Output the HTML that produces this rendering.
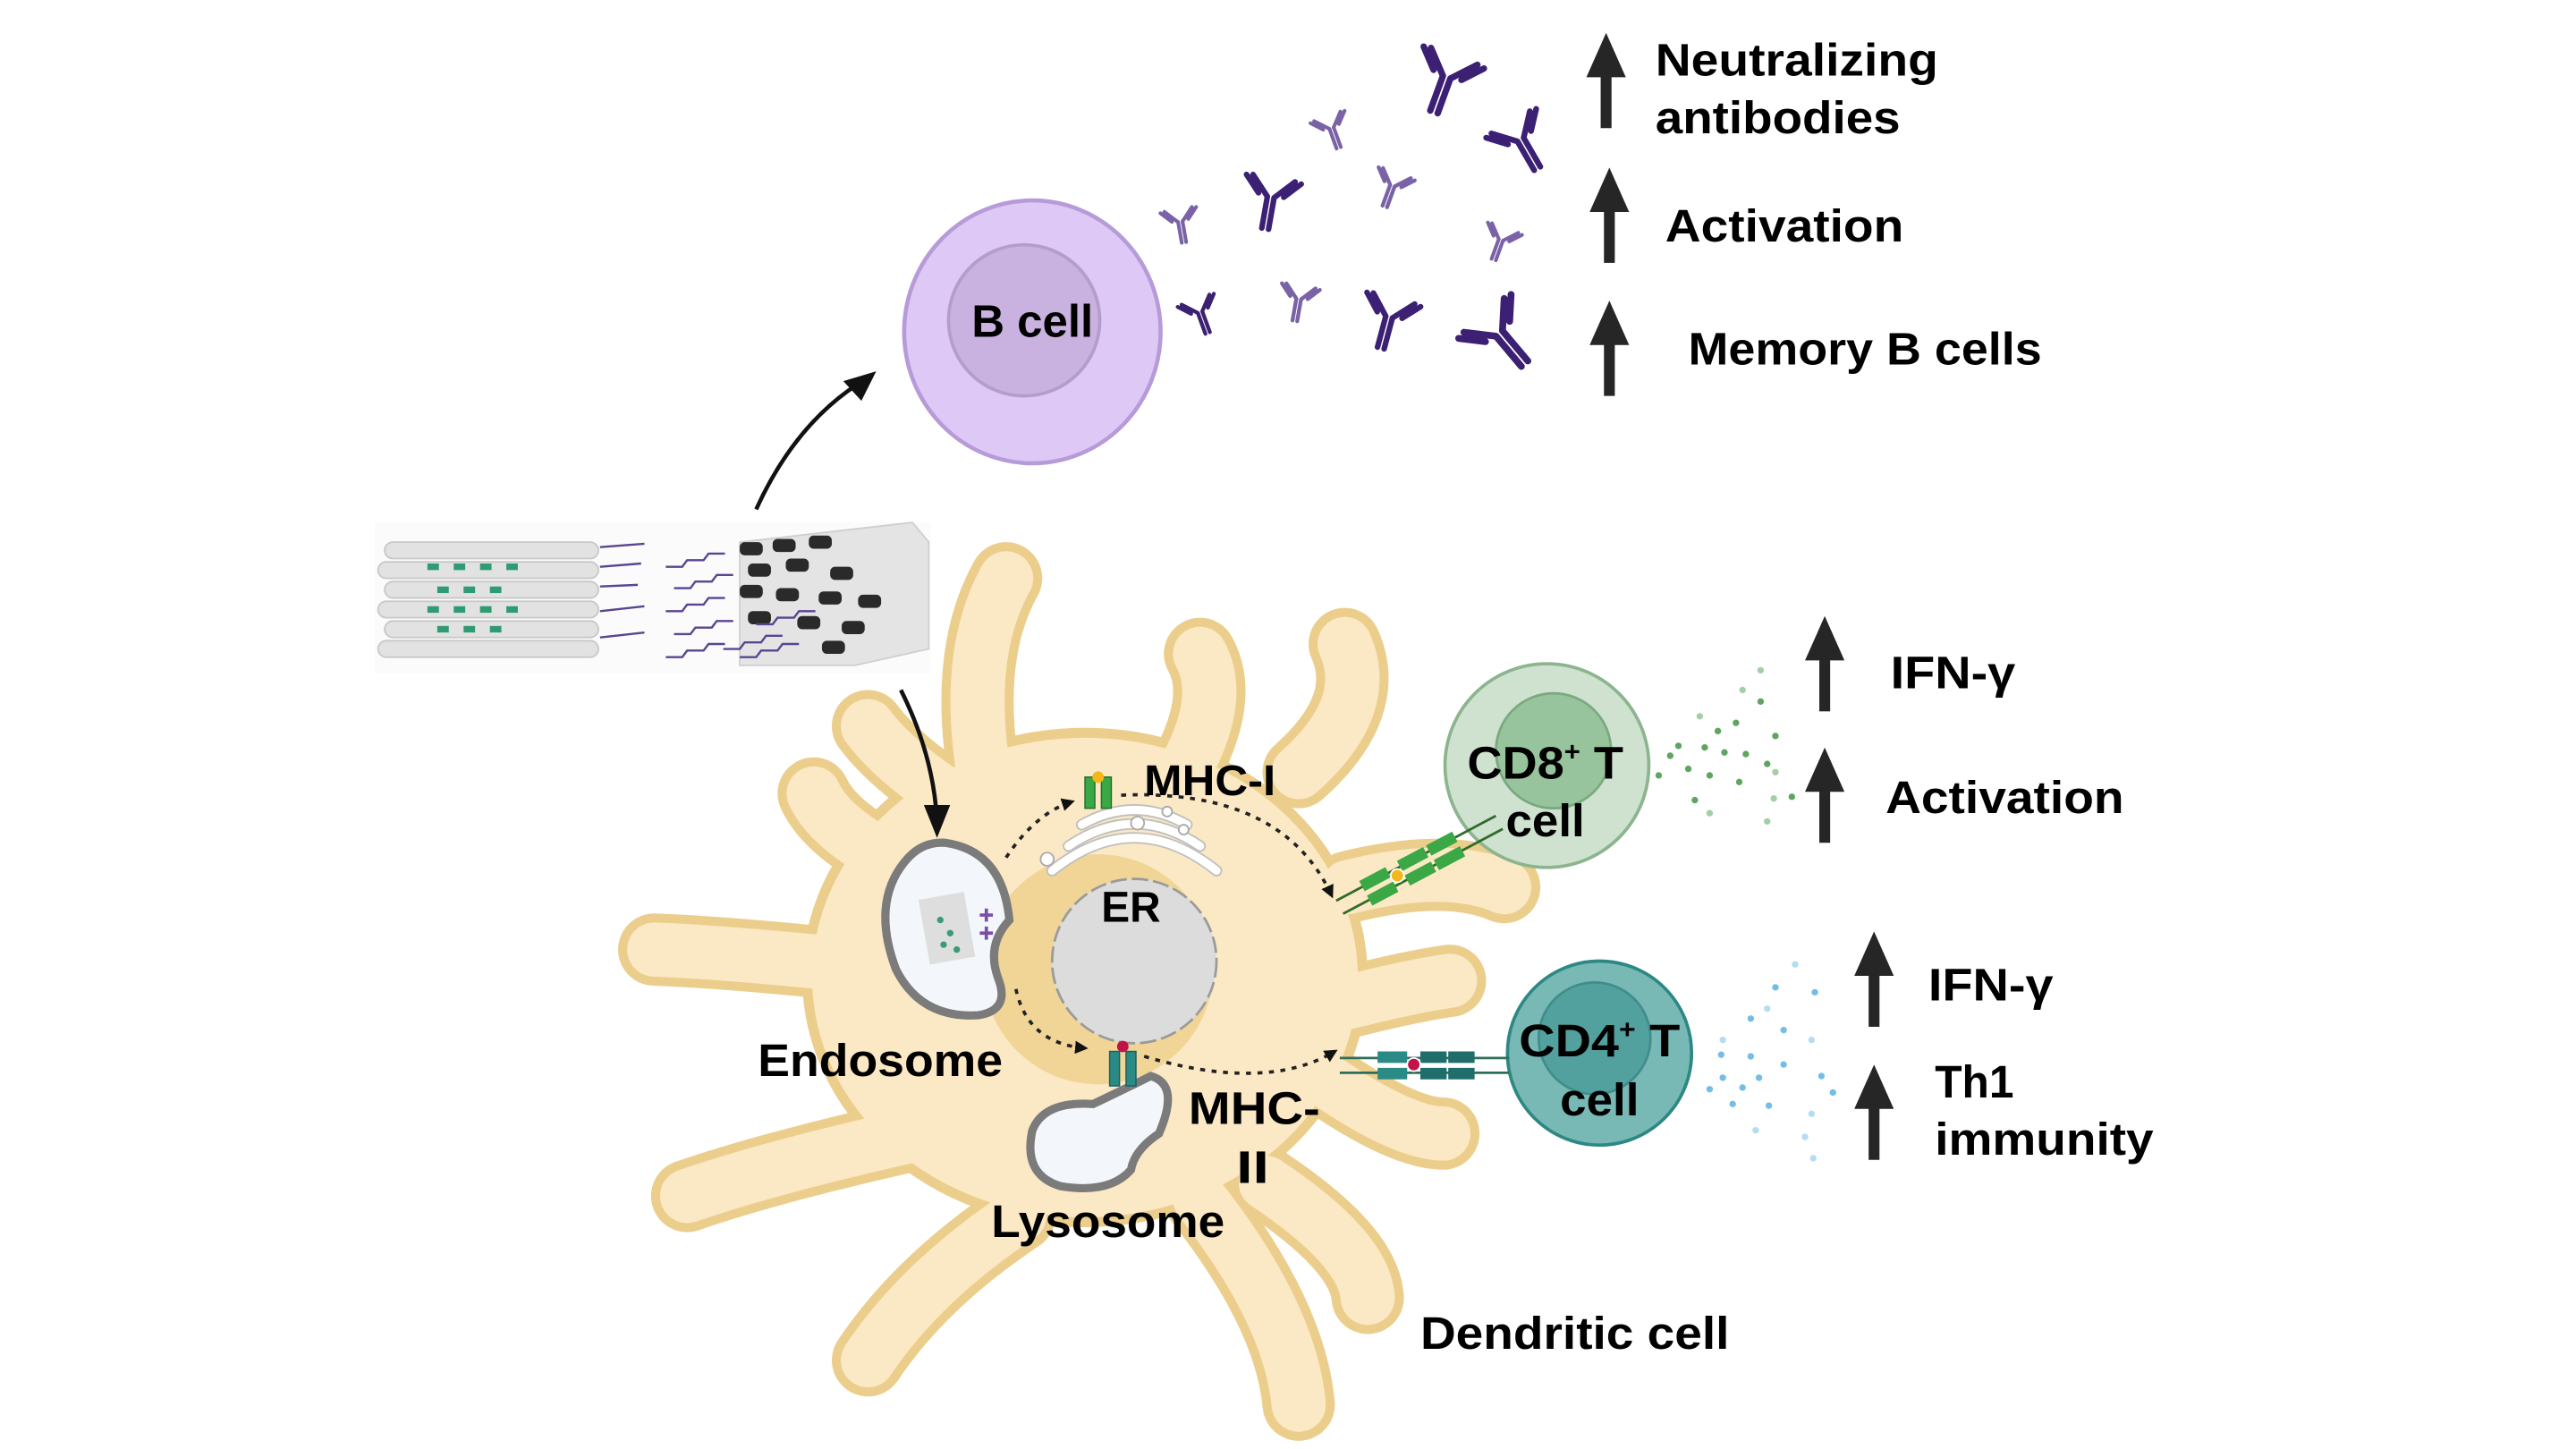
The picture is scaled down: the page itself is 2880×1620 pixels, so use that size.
<!DOCTYPE html>
<html><head><meta charset="utf-8"><style>
html,body{margin:0;padding:0;background:#fff;}
svg{display:block;}
text{font-family:"Liberation Sans",sans-serif;font-weight:bold;fill:#000;}
</style></head><body>
<svg width="2880" height="1620" viewBox="0 0 1567 882" preserveAspectRatio="none" xmlns="http://www.w3.org/2000/svg">
<defs>
<marker id="ah" markerWidth="8" markerHeight="8" refX="6" refY="4" orient="auto" markerUnits="userSpaceOnUse"><path d="M0,0 L8,4 L0,8 z" fill="#111"/></marker>
<g id="ab" fill="none" stroke-linecap="round"><path d="M-1.6,0 L-1.6,15 M1.6,0 L1.6,15 M-1.6,0 L-10,-9 M1.6,0 L10,-9 M-6,-1 L-13,-8.5 M6,-1 L13,-8.5" stroke-width="2.6"/></g>
<g id="up"><rect x="-3.3" y="26" width="6.6" height="32" fill="#262626"/><path d="M-12,27 L0,0 L12,27 z" fill="#262626"/></g>
</defs>

<!-- B cell -->
<ellipse cx="628" cy="202" rx="78" ry="80" fill="#ddc8f6" stroke="#b79bd8" stroke-width="2.5"/>
<circle cx="623" cy="195" r="46" fill="#c9b2e0" stroke="#b49dcd" stroke-width="2"/>
<text x="628" y="205" font-size="28" text-anchor="middle" textLength="74" lengthAdjust="spacingAndGlyphs">B cell</text>

<!-- arrow to B cell -->
<path d="M460,310 Q485,255 528,230" fill="none" stroke="#111" stroke-width="2.5"/>
<path d="M533,226 L513,232 L524,244 z" fill="#111"/>

<!-- antibodies -->
<g stroke="#3b2073">
<use href="#ab" transform="translate(880,47) rotate(20) scale(1.5)"/>
<use href="#ab" transform="translate(925,85) rotate(-30) scale(1.35)"/>
<use href="#ab" transform="translate(773,120) rotate(10) scale(1.3)"/>
<use href="#ab" transform="translate(845,193) rotate(15) scale(1.3)"/>
<use href="#ab" transform="translate(912,203) rotate(-40) scale(1.6)"/>
<use href="#ab" transform="translate(730,190) rotate(-20) scale(0.9)"/>
</g>
<g stroke="#7a62a6">
<use href="#ab" transform="translate(810,78) rotate(-20) scale(0.85)"/>
<use href="#ab" transform="translate(847,113) rotate(20) scale(0.9)"/>
<use href="#ab" transform="translate(718,135) rotate(-10) scale(0.85)"/>
<use href="#ab" transform="translate(913,146) rotate(20) scale(0.85)"/>
<use href="#ab" transform="translate(790,182) rotate(10) scale(0.9)"/>
</g>

<!-- right-top labels -->
<use href="#up" transform="translate(977,20)"/>
<use href="#up" transform="translate(979,102)"/>
<use href="#up" transform="translate(979,183)"/>
<text x="1007" y="46" font-size="28" textLength="172" lengthAdjust="spacingAndGlyphs">Neutralizing</text>
<text x="1007" y="81" font-size="28" textLength="149" lengthAdjust="spacingAndGlyphs">antibodies</text>
<text x="1013" y="147" font-size="28" textLength="145" lengthAdjust="spacingAndGlyphs">Activation</text>
<text x="1027" y="222" font-size="28" textLength="215" lengthAdjust="spacingAndGlyphs">Memory B cells</text>

<!-- nanostructures -->
<rect x="228" y="318" width="338" height="92" fill="#fbfbfb"/>
<g fill="#e2e2e2" stroke="#c8c8c8" stroke-width="1">
<rect x="234" y="330" width="130" height="10" rx="5"/>
<rect x="230" y="342" width="134" height="10" rx="5"/>
<rect x="234" y="354" width="130" height="10" rx="5"/>
<rect x="230" y="366" width="134" height="10" rx="5"/>
<rect x="234" y="378" width="130" height="10" rx="5"/>
<rect x="230" y="390" width="134" height="10" rx="5"/>
</g>
<g fill="#2f9b73">
<rect x="260" y="343" width="7" height="4"/><rect x="276" y="343" width="7" height="4"/><rect x="292" y="343" width="7" height="4"/><rect x="308" y="343" width="7" height="4"/>
<rect x="266" y="357" width="7" height="4"/><rect x="282" y="357" width="7" height="4"/><rect x="298" y="357" width="7" height="4"/>
<rect x="260" y="369" width="7" height="4"/><rect x="276" y="369" width="7" height="4"/><rect x="292" y="369" width="7" height="4"/><rect x="308" y="369" width="7" height="4"/>
<rect x="266" y="381" width="7" height="4"/><rect x="282" y="381" width="7" height="4"/><rect x="298" y="381" width="7" height="4"/>
</g>
<g fill="#e4e4e4" stroke="#cfcfcf">
<path d="M450,330 L555,318 L565,330 L565,395 L520,405 L450,405 z"/>
</g>
<g fill="#2a2a2a">
<rect x="450" y="330" width="14" height="8" rx="3"/><rect x="470" y="328" width="14" height="8" rx="3"/><rect x="492" y="326" width="14" height="8" rx="3"/>
<rect x="455" y="343" width="14" height="8" rx="3"/><rect x="478" y="340" width="14" height="8" rx="3"/><rect x="505" y="345" width="14" height="8" rx="3"/>
<rect x="450" y="356" width="14" height="8" rx="3"/><rect x="472" y="358" width="14" height="8" rx="3"/><rect x="498" y="360" width="14" height="8" rx="3"/>
<rect x="455" y="372" width="14" height="8" rx="3"/><rect x="485" y="375" width="14" height="8" rx="3"/><rect x="512" y="378" width="14" height="8" rx="3"/>
<rect x="500" y="390" width="14" height="8" rx="3"/><rect x="522" y="362" width="14" height="8" rx="3"/>
</g>
<g stroke="#5a4590" stroke-width="1.3" fill="none">
<path d="M365,333 L392,331"/><path d="M365,345 L390,343"/><path d="M365,357 L388,356"/><path d="M365,372 L392,369"/><path d="M365,388 L392,385"/>
<path d="M405,345 l10,0 l3,-4 l10,0 l3,-4 l10,0"/><path d="M410,358 l10,0 l3,-4 l10,0 l3,-4 l10,0"/>
<path d="M405,372 l10,0 l3,-4 l10,0 l3,-4 l10,0"/><path d="M410,386 l10,0 l3,-4 l10,0 l3,-4 l10,0"/>
<path d="M405,400 l10,0 l3,-4 l10,0 l3,-4 l10,0"/><path d="M450,400 l10,0 l3,-4 l10,0 l3,-4 l10,0"/>
<path d="M440,395 l10,0 l3,-4 l10,0 l3,-4 l10,0"/><path d="M460,380 l10,0 l3,-4 l10,0 l3,-4 l10,0"/>
</g>

<!-- Dendritic cell -->
<g fill="none" stroke-linecap="round" stroke="#ecce8c" stroke-width="44">
<path d="M600,480 Q585,400 612,352"/>
<path d="M720,470 Q745,425 730,398"/>
<path d="M790,470 Q835,430 818,392"/>
<path d="M820,540 Q880,525 915,540"/>
<path d="M820,610 Q860,600 882,597"/>
<path d="M810,660 Q855,690 878,690"/>
<path d="M770,720 Q830,760 832,790"/>
<path d="M730,730 Q785,800 790,855"/>
<path d="M620,740 Q560,780 528,828"/>
<path d="M560,690 Q470,710 418,728"/>
<path d="M540,590 Q450,580 398,578"/>
<path d="M545,525 Q505,505 495,483"/>
<path d="M585,490 Q545,465 528,442"/>
</g>
<ellipse cx="660" cy="595" rx="172" ry="152" fill="#ecce8c"/>
<g fill="none" stroke-linecap="round" stroke="#fbe8c4" stroke-width="33">
<path d="M600,480 Q585,400 612,352"/>
<path d="M720,470 Q745,425 730,398"/>
<path d="M790,470 Q835,430 818,392"/>
<path d="M820,540 Q880,525 915,540"/>
<path d="M820,610 Q860,600 882,597"/>
<path d="M810,660 Q855,690 878,690"/>
<path d="M770,720 Q830,760 832,790"/>
<path d="M730,730 Q785,800 790,855"/>
<path d="M620,740 Q560,780 528,828"/>
<path d="M560,690 Q470,710 418,728"/>
<path d="M540,590 Q450,580 398,578"/>
<path d="M545,525 Q505,505 495,483"/>
<path d="M585,490 Q545,465 528,442"/>
</g>
<ellipse cx="660" cy="595" rx="166" ry="146" fill="#fbe8c4"/>
<circle cx="668" cy="590" r="70" fill="#f0d597"/>

<!-- arrow down (on top of cell) -->
<path d="M548,420 Q568,460 570,500" fill="none" stroke="#111" stroke-width="2.5"/>
<path d="M570,510 L562,490 L578,490 z" fill="#111"/>

<!-- ER -->
<circle cx="690" cy="585" r="50" fill="#dcdcdc" stroke="#9a9a9a" stroke-width="1.5" stroke-dasharray="10 3"/>
<text x="688" y="561" font-size="26" text-anchor="middle">ER</text>
<!-- Golgi -->
<g fill="none" stroke="#bfbfbf" stroke-width="7" stroke-linecap="round">
<path d="M640,530 Q690,490 740,530"/><path d="M650,515 Q690,488 730,515"/><path d="M658,502 Q690,484 722,502"/>
</g>
<g fill="none" stroke="#fff" stroke-width="5" stroke-linecap="round">
<path d="M640,530 Q690,490 740,530"/><path d="M650,515 Q690,488 730,515"/><path d="M658,502 Q690,484 722,502"/>
</g>
<g fill="#fff" stroke="#aaa" stroke-width="1"><circle cx="637" cy="523" r="4"/><circle cx="692" cy="501" r="4"/><circle cx="710" cy="494" r="3"/><circle cx="720" cy="505" r="3"/></g>

<!-- Endosome -->
<path d="M575,513 Q610,518 614,560 Q600,575 607,595 Q615,615 595,618 Q560,620 545,590 Q530,550 550,525 Q560,512 575,513 z" fill="#f3f7fb" stroke="#7b7b7b" stroke-width="5"/>
<rect x="562" y="545" width="28" height="40" fill="#dedede" transform="rotate(-10 576 565)"/>
<g fill="#3a9b74"><circle cx="572" cy="560" r="2"/><circle cx="578" cy="568" r="2"/><circle cx="574" cy="575" r="2"/><circle cx="582" cy="578" r="2"/></g>
<g stroke="#7a4fa8" stroke-width="2" fill="none"><path d="M596,557 h8 M596,568 h8 M600,553 v8 M600,564 v8"/></g>

<!-- Lysosome -->
<path d="M700,655 Q718,660 705,690 Q690,700 688,712 Q675,727 645,722 Q622,715 628,688 Q635,670 665,672 Q690,660 700,655 z" fill="#f3f7fb" stroke="#7b7b7b" stroke-width="5"/>

<!-- MHC-I receptor -->
<g fill="#3aa845" stroke="#256e2c" stroke-width="0.8"><rect x="660" y="473" width="6" height="19"/><rect x="670" y="473" width="6" height="19"/></g>
<circle cx="668" cy="473" r="3.5" fill="#f3b71c"/>
<!-- MHC-II receptor -->
<g fill="#2a8a86" stroke="#1c5f5c" stroke-width="0.8"><rect x="675" y="640" width="6" height="21"/><rect x="685" y="640" width="6" height="21"/></g>
<circle cx="683" cy="637" r="3.5" fill="#c2124a"/>

<!-- dotted arrows -->
<g fill="none" stroke="#222" stroke-width="2" stroke-dasharray="3 4">
<path d="M612,522 Q630,495 652,488" marker-end="url(#ah)"/>
<path d="M682,484 Q780,480 810,545" marker-end="url(#ah)"/>
<path d="M618,602 Q625,635 660,638" marker-end="url(#ah)"/>
<path d="M696,643 Q770,665 812,640" marker-end="url(#ah)"/>
</g>

<!-- CD8 T cell -->
<circle cx="941" cy="466" r="62" fill="#cfe2d0" stroke="#8cb48d" stroke-width="2"/>
<circle cx="945" cy="457" r="35" fill="#97c49c" stroke="#7aa97f" stroke-width="1.5"/>
<g transform="translate(850,533) rotate(-28)">
<line x1="-40" y1="-4" x2="70" y2="-4" stroke="#2f6b2a" stroke-width="1.5"/>
<line x1="-40" y1="5" x2="70" y2="5" stroke="#2f6b2a" stroke-width="1.5"/>
<rect x="-22" y="-8" width="18" height="7" fill="#3aa845"/><rect x="4" y="-8" width="18" height="7" fill="#3aa845"/><rect x="24" y="-8" width="18" height="7" fill="#3aa845"/>
<rect x="-22" y="2" width="18" height="7" fill="#3aa845"/><rect x="4" y="2" width="18" height="7" fill="#3aa845"/><rect x="24" y="2" width="18" height="7" fill="#3aa845"/>
<circle cx="0" cy="0" r="4" fill="#f3b71c" stroke="#fff" stroke-width="1"/>
</g>
<text x="940" y="474" font-size="28" text-anchor="middle" textLength="95" lengthAdjust="spacingAndGlyphs">CD8<tspan font-size="16" dy="-11">+</tspan><tspan dy="11"> T</tspan></text>
<text x="940" y="509" font-size="28" text-anchor="middle" textLength="48" lengthAdjust="spacingAndGlyphs">cell</text>

<!-- CD4 T cell -->
<circle cx="973" cy="641" r="56" fill="#78b9b6" stroke="#2d8884" stroke-width="2"/>
<circle cx="970" cy="632" r="34" fill="#52a19e" stroke="#3f8e8b" stroke-width="1.5"/>
<g transform="translate(860,648)">
<line x1="-45" y1="-4" x2="58" y2="-4" stroke="#2c6e58" stroke-width="1.5"/>
<line x1="-45" y1="5" x2="58" y2="5" stroke="#2c6e58" stroke-width="1.5"/>
<rect x="-22" y="-8" width="18" height="7" fill="#2a8a86"/><rect x="4" y="-8" width="16" height="7" fill="#1f6e6b"/><rect x="21" y="-8" width="16" height="7" fill="#1f6e6b"/>
<rect x="-22" y="2" width="18" height="7" fill="#2a8a86"/><rect x="4" y="2" width="16" height="7" fill="#1f6e6b"/><rect x="21" y="2" width="16" height="7" fill="#1f6e6b"/>
<circle cx="0" cy="0" r="4" fill="#c2124a" stroke="#fff" stroke-width="1"/>
</g>
<text x="973" y="643" font-size="28" text-anchor="middle" textLength="98" lengthAdjust="spacingAndGlyphs">CD4<tspan font-size="16" dy="-11">+</tspan><tspan dy="11"> T</tspan></text>
<text x="973" y="679" font-size="28" text-anchor="middle" textLength="48" lengthAdjust="spacingAndGlyphs">cell</text>

<!-- green dots -->
<g fill="#5ea55f">
<circle cx="1056" cy="440" r="2"/><circle cx="1080" cy="448" r="2"/><circle cx="1071" cy="427" r="2"/><circle cx="1049" cy="458" r="2"/>
<circle cx="1040" cy="472" r="2"/><circle cx="1058" cy="476" r="2"/><circle cx="1037" cy="455" r="2"/><circle cx="1027" cy="468" r="2"/>
<circle cx="1016" cy="460" r="2"/><circle cx="1009" cy="472" r="2"/><circle cx="1075" cy="465" r="2"/><circle cx="1031" cy="487" r="2"/>
<circle cx="1021" cy="454" r="2"/><circle cx="1045" cy="445" r="2"/><circle cx="1062" cy="459" r="2"/><circle cx="1090" cy="485" r="2"/>
</g>
<g fill="#a6cea6">
<circle cx="1060" cy="420" r="2"/><circle cx="1071" cy="408" r="2"/><circle cx="1080" cy="470" r="2"/><circle cx="1040" cy="495" r="2"/>
<circle cx="1075" cy="500" r="2"/><circle cx="1079" cy="486" r="2"/><circle cx="1034" cy="436" r="2"/>
</g>
<!-- blue dots -->
<g fill="#74bde8">
<circle cx="1080" cy="601" r="2"/><circle cx="1104" cy="604" r="2"/><circle cx="1065" cy="620" r="2"/><circle cx="1085" cy="627" r="2"/>
<circle cx="1047" cy="642" r="2"/><circle cx="1065" cy="643" r="2"/><circle cx="1085" cy="648" r="2"/><circle cx="1048" cy="656" r="2"/>
<circle cx="1060" cy="662" r="2"/><circle cx="1070" cy="656" r="2"/><circle cx="1108" cy="655" r="2"/><circle cx="1040" cy="663" r="2"/>
<circle cx="1054" cy="672" r="2"/><circle cx="1076" cy="673" r="2"/><circle cx="1115" cy="665" r="2"/>
</g>
<g fill="#b6dcf2">
<circle cx="1092" cy="587" r="2"/><circle cx="1075" cy="614" r="2"/><circle cx="1048" cy="633" r="2"/><circle cx="1102" cy="633" r="2"/>
<circle cx="1102" cy="678" r="2"/><circle cx="1068" cy="688" r="2"/><circle cx="1098" cy="692" r="2"/><circle cx="1103" cy="705" r="2"/>
</g>

<!-- right-bottom labels -->
<use href="#up" transform="translate(1110,375)"/>
<use href="#up" transform="translate(1110,455)"/>
<use href="#up" transform="translate(1140,567)"/>
<use href="#up" transform="translate(1140,648)"/>
<text x="1150" y="419" font-size="28" textLength="76" lengthAdjust="spacingAndGlyphs">IFN-γ</text>
<text x="1147" y="495" font-size="28" textLength="145" lengthAdjust="spacingAndGlyphs">Activation</text>
<text x="1173" y="609" font-size="28" textLength="76" lengthAdjust="spacingAndGlyphs">IFN-γ</text>
<text x="1177" y="668" font-size="28" textLength="48" lengthAdjust="spacingAndGlyphs">Th1</text>
<text x="1177" y="703" font-size="28" textLength="133" lengthAdjust="spacingAndGlyphs">immunity</text>

<!-- DC labels -->
<text x="696" y="484" font-size="26" textLength="80" lengthAdjust="spacingAndGlyphs">MHC-I</text>
<text x="461" y="655" font-size="28" textLength="149" lengthAdjust="spacingAndGlyphs">Endosome</text>
<text x="723" y="684" font-size="28" textLength="80" lengthAdjust="spacingAndGlyphs">MHC-</text>
<text x="752" y="720" font-size="28" textLength="20" lengthAdjust="spacingAndGlyphs">II</text>
<text x="603" y="753" font-size="28" textLength="142" lengthAdjust="spacingAndGlyphs">Lysosome</text>
<text x="864" y="821" font-size="28" textLength="188" lengthAdjust="spacingAndGlyphs">Dendritic cell</text>
</svg>
</body></html>
